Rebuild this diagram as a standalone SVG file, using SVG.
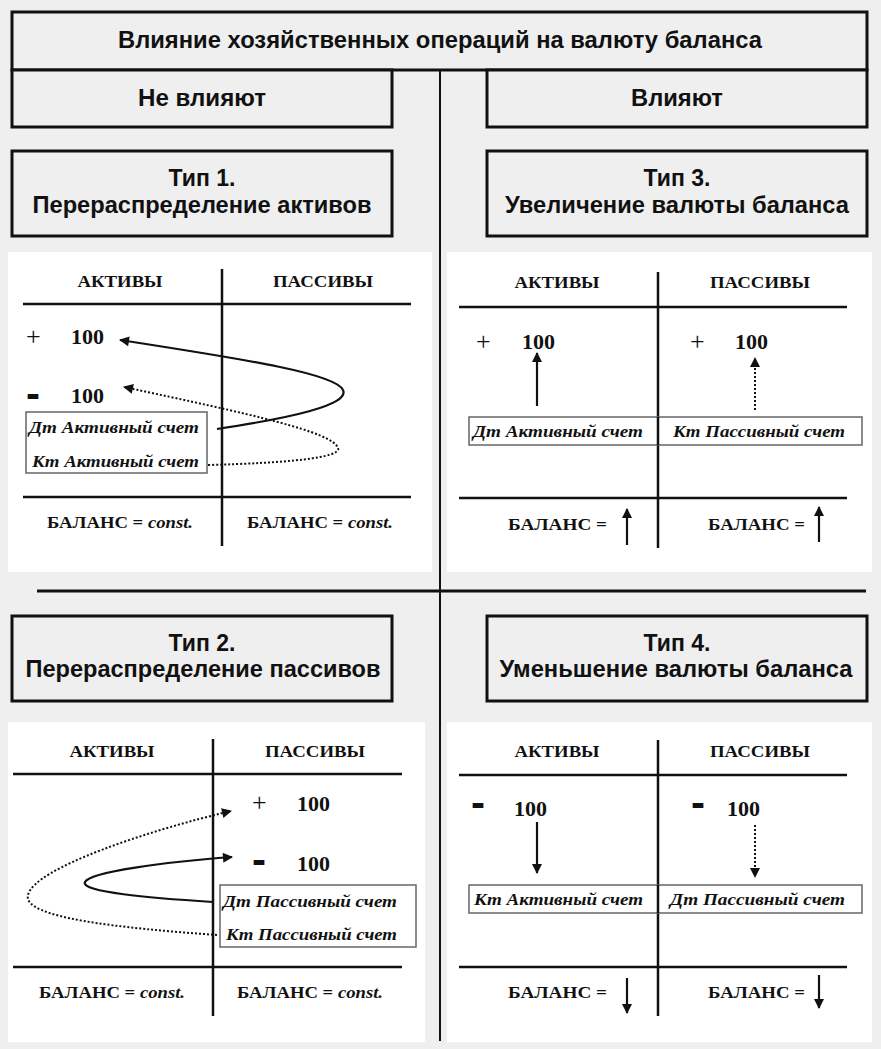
<svg xmlns="http://www.w3.org/2000/svg" width="881" height="1049" viewBox="0 0 881 1049">
<defs>
<style>
.hdr{fill:#efefef;stroke:#111;stroke-width:3}
.h{font-family:"Liberation Sans",Arial,sans-serif;font-weight:bold;font-size:23px;fill:#111;text-anchor:middle}
.panel{fill:#fff;stroke:none}
.tl{stroke:#111;stroke-width:2.5;fill:none}
.acc{fill:#fff;stroke:#666;stroke-width:1.5}
.th{font-family:"Liberation Serif","Times New Roman",serif;font-weight:bold;font-size:17.5px;fill:#111;text-anchor:middle}
.num{font-family:"Liberation Serif","Times New Roman",serif;font-weight:bold;font-size:22px;fill:#111}
.plus{font-family:"Liberation Serif","Times New Roman",serif;font-size:26px;fill:#111}
.minus{font-family:"Liberation Sans",Arial,sans-serif;font-weight:bold;font-size:42px;fill:#111}
.ac{font-family:"Liberation Serif","Times New Roman",serif;font-weight:bold;font-style:italic;font-size:16.5px;fill:#111}
.bal{font-family:"Liberation Serif","Times New Roman",serif;font-weight:bold;font-size:17px;fill:#111}
.it{font-style:italic}
.sol{stroke:#111;stroke-width:2.2;fill:none;marker-end:url(#ah)}
.dot{stroke:#111;stroke-width:2;stroke-dasharray:2 2;fill:none;marker-end:url(#ah)}
</style>
<marker id="ah" viewBox="0 0 10 10" refX="9" refY="5" markerWidth="11" markerHeight="10" markerUnits="userSpaceOnUse" orient="auto">
<path d="M0,0 L10,5 L0,10 z" fill="#111"/>
</marker>
</defs>
<rect width="881" height="1049" fill="#efefef"/>

<g id="connectors-frame">
<line x1="440" y1="70" x2="440" y2="1041" stroke="#111" stroke-width="2"/>
<line x1="37" y1="591" x2="866" y2="591" stroke="#111" stroke-width="3"/>
</g>

<g id="title">
<rect class="hdr" x="12" y="12" width="855" height="58"/>
<text class="h" x="440" y="48" textLength="644" lengthAdjust="spacingAndGlyphs">Влияние хозяйственных операций на валюту баланса</text>
</g>
<g id="ne-vliyayut">
<rect class="hdr" x="12" y="70" width="380" height="57"/>
<text class="h" x="202" y="106" textLength="128" lengthAdjust="spacingAndGlyphs">Не влияют</text>
</g>
<g id="vliyayut">
<rect class="hdr" x="487" y="70" width="380" height="57"/>
<text class="h" x="677" y="106" textLength="92" lengthAdjust="spacingAndGlyphs">Влияют</text>
</g>

<g id="type1-title">
<rect class="hdr" x="12" y="151" width="380" height="85"/>
<text class="h" x="202" y="186">Тип 1.</text>
<text class="h" x="202" y="213" textLength="339" lengthAdjust="spacingAndGlyphs">Перераспределение активов</text>
</g>
<g id="type3-title">
<rect class="hdr" x="487" y="151" width="380" height="85"/>
<text class="h" x="677" y="186">Тип 3.</text>
<text class="h" x="677" y="213" textLength="344" lengthAdjust="spacingAndGlyphs">Увеличение валюты баланса</text>
</g>
<g id="type2-title">
<rect class="hdr" x="12" y="616" width="380" height="85"/>
<text class="h" x="202" y="651">Тип 2.</text>
<text class="h" x="203" y="677" textLength="355" lengthAdjust="spacingAndGlyphs">Перераспределение пассивов</text>
</g>
<g id="type4-title">
<rect class="hdr" x="487" y="616" width="380" height="85"/>
<text class="h" x="677" y="651">Тип 4.</text>
<text class="h" x="676" y="677" textLength="353" lengthAdjust="spacingAndGlyphs">Уменьшение валюты баланса</text>
</g>

<!-- Type 1 panel -->
<g id="type1-panel">
<rect class="panel" x="8" y="252" width="424" height="320"/>
<line class="tl" x1="23" y1="304" x2="411" y2="304"/>
<line class="tl" x1="23" y1="497" x2="411" y2="497"/>
<line class="tl" x1="222" y1="269" x2="222" y2="546"/>
<text class="th" x="120" y="287" textLength="85" lengthAdjust="spacingAndGlyphs">АКТИВЫ</text>
<text class="th" x="323" y="287" textLength="100" lengthAdjust="spacingAndGlyphs">ПАССИВЫ</text>
<text class="plus" x="26" y="345">+</text>
<text class="num" x="71" y="344">100</text>
<text class="minus" x="26" y="408">-</text>
<text class="num" x="71" y="403">100</text>
<rect class="acc" x="26" y="412" width="181" height="61"/>
<text class="ac" x="29" y="433" textLength="170" lengthAdjust="spacingAndGlyphs">Дт Активный счет</text>
<text class="ac" x="32" y="467" textLength="167" lengthAdjust="spacingAndGlyphs">Кт Активный счет</text>
<text class="bal" x="120" y="528" text-anchor="middle" textLength="146" lengthAdjust="spacingAndGlyphs">БАЛАНС = <tspan class="it">const.</tspan></text>
<text class="bal" x="320" y="528" text-anchor="middle" textLength="146" lengthAdjust="spacingAndGlyphs">БАЛАНС = <tspan class="it">const.</tspan></text>
</g>

<!-- Type 3 panel -->
<g id="type3-panel">
<rect class="panel" x="447" y="252" width="425" height="320"/>
<line class="tl" x1="459" y1="307" x2="847" y2="307"/>
<line class="tl" x1="459" y1="498" x2="847" y2="498"/>
<line class="tl" x1="658" y1="272" x2="658" y2="548"/>
<text class="th" x="557" y="288" textLength="85" lengthAdjust="spacingAndGlyphs">АКТИВЫ</text>
<text class="th" x="760" y="288" textLength="100" lengthAdjust="spacingAndGlyphs">ПАССИВЫ</text>
<text class="plus" x="476" y="350">+</text>
<text class="num" x="522" y="349">100</text>
<text class="plus" x="690" y="350">+</text>
<text class="num" x="735" y="349">100</text>
<rect class="acc" x="469" y="417" width="393" height="28"/>
<line class="tl" x1="658" y1="417" x2="658" y2="445"/>
<text class="ac" x="473" y="437" textLength="170" lengthAdjust="spacingAndGlyphs">Дт Активный счет</text>
<text class="ac" x="673" y="437" textLength="172" lengthAdjust="spacingAndGlyphs">Кт Пассивный счет</text>
<text class="bal" x="508" y="530" textLength="99" lengthAdjust="spacingAndGlyphs">БАЛАНС =</text>
<text class="bal" x="708" y="530" textLength="97" lengthAdjust="spacingAndGlyphs">БАЛАНС =</text>
</g>

<!-- Type 2 panel -->
<g id="type2-panel">
<rect class="panel" x="8" y="722" width="417" height="320"/>
<line class="tl" x1="13" y1="774" x2="402" y2="774"/>
<line class="tl" x1="13" y1="967" x2="402" y2="967"/>
<line class="tl" x1="213" y1="739" x2="213" y2="1016"/>
<text class="th" x="112" y="757" textLength="85" lengthAdjust="spacingAndGlyphs">АКТИВЫ</text>
<text class="th" x="315" y="757" textLength="100" lengthAdjust="spacingAndGlyphs">ПАССИВЫ</text>
<text class="plus" x="252" y="811">+</text>
<text class="num" x="297" y="811">100</text>
<text class="minus" x="252" y="874">-</text>
<text class="num" x="297" y="871">100</text>
<rect class="acc" x="220" y="885" width="196" height="62"/>
<text class="ac" x="223" y="907" textLength="174" lengthAdjust="spacingAndGlyphs">Дт Пассивный счет</text>
<text class="ac" x="226" y="940" textLength="171" lengthAdjust="spacingAndGlyphs">Кт Пассивный счет</text>
<text class="bal" x="112" y="998" text-anchor="middle" textLength="146" lengthAdjust="spacingAndGlyphs">БАЛАНС = <tspan class="it">const.</tspan></text>
<text class="bal" x="310" y="998" text-anchor="middle" textLength="146" lengthAdjust="spacingAndGlyphs">БАЛАНС = <tspan class="it">const.</tspan></text>
</g>

<!-- Type 4 panel -->
<g id="type4-panel">
<rect class="panel" x="447" y="722" width="425" height="320"/>
<line class="tl" x1="459" y1="775" x2="847" y2="775"/>
<line class="tl" x1="459" y1="967" x2="847" y2="967"/>
<line class="tl" x1="658" y1="740" x2="658" y2="1016"/>
<text class="th" x="557" y="757" textLength="85" lengthAdjust="spacingAndGlyphs">АКТИВЫ</text>
<text class="th" x="760" y="757" textLength="100" lengthAdjust="spacingAndGlyphs">ПАССИВЫ</text>
<text class="minus" x="471" y="817">-</text>
<text class="num" x="514" y="816">100</text>
<text class="minus" x="691" y="817">-</text>
<text class="num" x="727" y="816">100</text>
<rect class="acc" x="469" y="885" width="393" height="28"/>
<line class="tl" x1="658" y1="885" x2="658" y2="913"/>
<text class="ac" x="474" y="905" textLength="169" lengthAdjust="spacingAndGlyphs">Кт Активный счет</text>
<text class="ac" x="670" y="905" textLength="175" lengthAdjust="spacingAndGlyphs">Дт Пассивный счет</text>
<text class="bal" x="508" y="998" textLength="99" lengthAdjust="spacingAndGlyphs">БАЛАНС =</text>
<text class="bal" x="708" y="998" textLength="97" lengthAdjust="spacingAndGlyphs">БАЛАНС =</text>
</g>

<g id="connectors">
<!-- type 1 -->
<path class="sol" d="M217,429 C290,418 350,405 343,390 C336,374 250,360 120,340"/>
<path class="dot" d="M208,465 C285,463 342,458 338,448 C333,432 250,414 124,387"/>
<!-- type 3 -->
<path class="sol" d="M537,406 L537,353"/>
<path class="dot" d="M755,410 L755,358"/>
<path class="sol" d="M627,545 L627,509"/>
<path class="sol" d="M819,542 L819,507"/>
<!-- type 2 -->
<path class="sol" d="M213,902 C150,898 80,892 85,882 C90,872 165,862 232,857"/>
<path class="dot" d="M217,935 C120,928 22,918 28,895 C34,868 150,830 231,811"/>
<!-- type 4 -->
<path class="sol" d="M537,822 L537,873"/>
<path class="dot" d="M755,825 L755,877"/>
<path class="sol" d="M627,978 L627,1013"/>
<path class="sol" d="M819,975 L819,1008"/>
</g>
</svg>
